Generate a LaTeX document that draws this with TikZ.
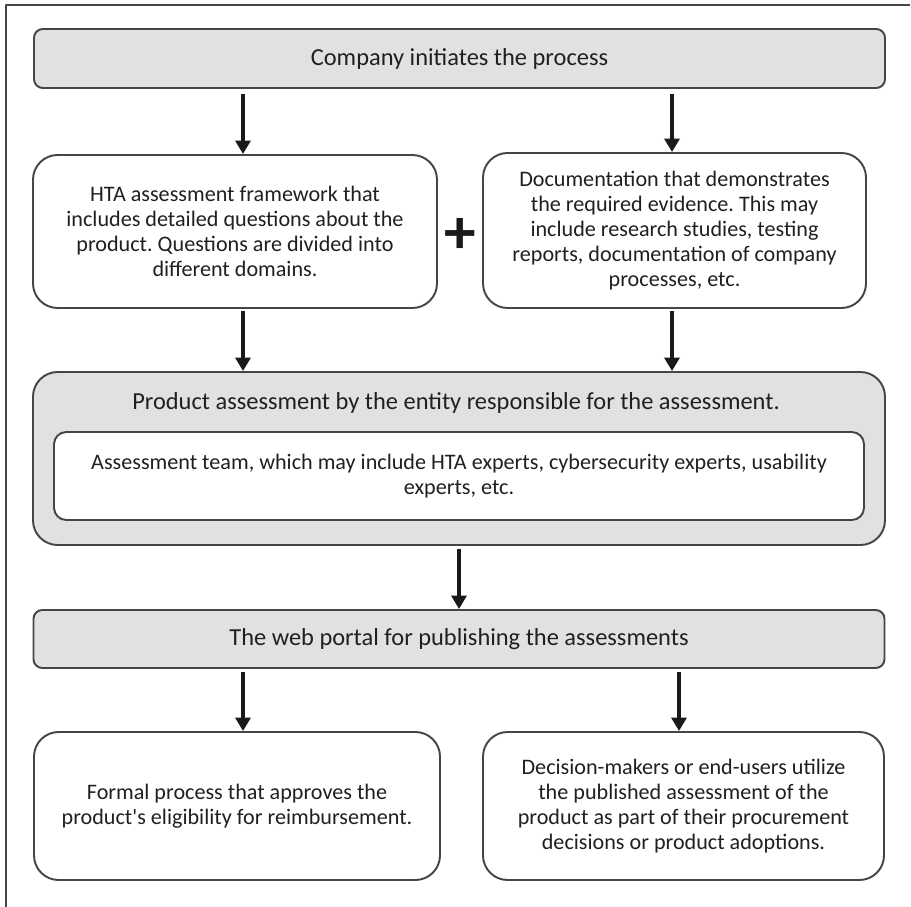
\documentclass[tikz,border=0pt]{standalone}
\usepackage{fontspec}
\setmainfont{Carlito}
\usepackage{tikz}
\usetikzlibrary{arrows.meta,positioning}

\definecolor{boxline}{HTML}{454545}
\definecolor{boxgray}{HTML}{E1E1E1}
\definecolor{arrowink}{HTML}{1A1A1A}
\definecolor{textink}{HTML}{202020}

\frenchspacing
\begin{document}
\begin{tikzpicture}[
  font=\fontsize{12.6}{14.3}\selectfont,
  line cap=round,
  line join=round,
  headbox/.style={
    rectangle,
    rounded corners=5pt,
    minimum width=17.02cm,
    minimum height=1.18cm,
    align=center,
    line width=1.1pt,
    draw=boxline,
    fill=boxgray,
    text=textink,
    font=\fontsize{13.9}{16}\selectfont
  },
  infobox/.style={
    rectangle,
    rounded corners=14pt,
    align=center,
    line width=1.1pt,
    draw=boxline,
    fill=white,
    text=textink
  },
  arr/.style={
    -{Triangle[width=0.3cm,length=0.27cm]},
    line width=2.2pt,
    draw=arrowink,
    line cap=butt
  }
]

\useasboundingbox (0,0) rectangle (18.22,-18.14);
\draw[line width=1.2pt, draw=boxline, line cap=butt] (0.12,-18.14) -- (0.12,-0.10) -- (18.2,-0.10);

\node[headbox] (start) at (9.19,-1.17) {Company initiates the process};

\node[infobox, minimum width=8.08cm, minimum height=3.06cm] (frame) at (4.70,-4.63) {%
  HTA assessment framework that\\
  includes detailed questions about the\\
  product. Questions are divided into\\
  different domains.};
\node[infobox, minimum width=7.66cm, minimum height=3.10cm] (docs) at (13.49,-4.61) {%
  Documentation that demonstrates\\
  the required evidence. This may\\
  include research studies, testing\\
  reports, documentation of company\\
  processes, etc.};
\node[font=\fontsize{36}{36}\selectfont\bfseries, text=arrowink] (plus) at (9.20,-4.72) {+};

\node[headbox, rounded corners=14pt, minimum width=17.04cm, minimum height=3.46cm] (assess) at (9.18,-9.17) {};
\node[font=\fontsize{13.9}{16}\selectfont, text=textink] (assesstitle) at (9.12,-8.06)
  {Product assessment by the entity responsible for the assessment.};
\node[infobox, rounded corners=7pt, minimum width=16.2cm, minimum height=1.76cm] (team) at (9.18,-9.52) {%
  Assessment team, which may include HTA experts, cybersecurity experts, usability\\
  experts, etc.};

\node[headbox, minimum height=1.16cm] (portal) at (9.18,-12.78) {The web portal for publishing the assessments};

\node[infobox, minimum width=8.12cm, minimum height=2.96cm] (reimb) at (4.74,-16.12) {%
  Formal process that approves the\\
  product\textquotesingle s eligibility for reimbursement.};
\node[infobox, minimum width=8.02cm, minimum height=2.96cm] (users) at (13.67,-16.12) {%
  Decision-makers or end-users utilize\\
  the published assessment of the\\
  product as part of their procurement\\
  decisions or product adoptions.};

\draw[arr] ([xshift=1.6mm,yshift=-0.1cm]frame.north |- start.south) -- ([xshift=1.6mm]frame.north);
\draw[arr] ([xshift=-0.05cm,yshift=-0.1cm]docs.north |- start.south) -- ([xshift=-0.05cm]docs.north);
\draw[arr] ([xshift=1.6mm,yshift=-0.04cm]frame.south) -- ([xshift=1.6mm]frame.south |- assess.north);
\draw[arr] ([xshift=-0.05cm,yshift=-0.04cm]docs.south) -- ([xshift=-0.05cm]docs.south |- assess.north);
\draw[arr] ([yshift=-0.06cm]assess.south) -- (portal.north);
\draw[arr] ([xshift=1.2mm,yshift=-0.06cm]reimb.north |- portal.south) -- ([xshift=1.2mm]reimb.north);
\draw[arr] ([xshift=-0.9mm,yshift=-0.06cm]users.north |- portal.south) -- ([xshift=-0.9mm]users.north);

\end{tikzpicture}
\end{document}
